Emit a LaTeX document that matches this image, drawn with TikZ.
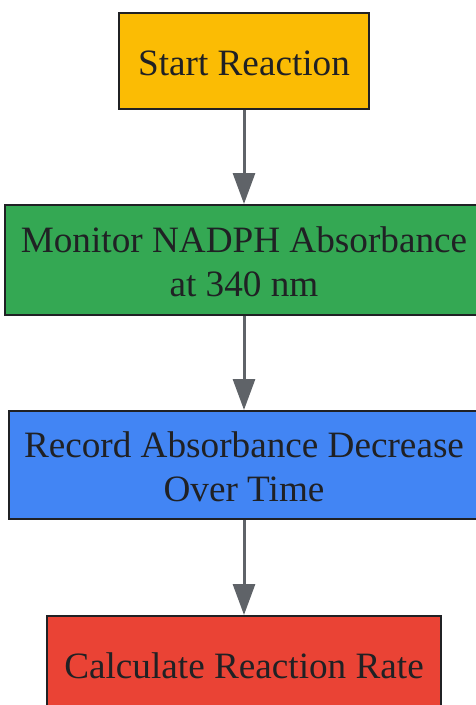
\documentclass[tikz,border=0pt]{standalone}
\usepackage{fontspec}
\setmainfont{Liberation Serif}
\usetikzlibrary{arrows.meta}
\definecolor{cy}{HTML}{FBBC04}
\definecolor{cg}{HTML}{34A853}
\definecolor{cb}{HTML}{4285F4}
\definecolor{cr}{HTML}{EA4335}
\definecolor{cline}{HTML}{202124}
\definecolor{carrow}{HTML}{5F6368}
\tikzset{
  box/.style={draw=cline, line width=2pt, inner sep=0pt},
  lbl/.style={text=cline, align=center, inner sep=0pt,
    font=\fontsize{37.2pt}{44pt}\selectfont},
  conn/.style={draw=carrow, line width=3pt, -{Triangle[length=31pt,width=22pt]}}
}
\begin{document}
\begin{tikzpicture}[x=1pt,y=1pt]
\useasboundingbox (0,0) rectangle (476,-705);
\node[box, fill=cy, minimum width=250pt, minimum height=96pt] (a) at (244,-61) {};
\node[lbl] (at) at (244,-63) {Start Reaction};
\node[box, fill=cg, minimum width=478pt, minimum height=110pt] (b) at (244,-260) {};
\node[lbl] (bt) at (244,-262) {Monitor NADPH Absorbance\\at 340 nm};
\node[box, fill=cb, minimum width=470pt, minimum height=108pt] (c) at (244,-465) {};
\node[lbl] (ct) at (244,-467) {Record Absorbance Decrease\\Over Time};
\node[box, fill=cr, minimum width=394pt, minimum height=110pt] (d) at (244,-671) {};
\node[lbl] (dt) at (244,-666) {Calculate Reaction Rate};
\draw[conn] (a.south) -- (b.north);
\draw[conn] (b.south) -- (c.north);
\draw[conn] (c.south) -- (d.north);
\end{tikzpicture}
\end{document}
